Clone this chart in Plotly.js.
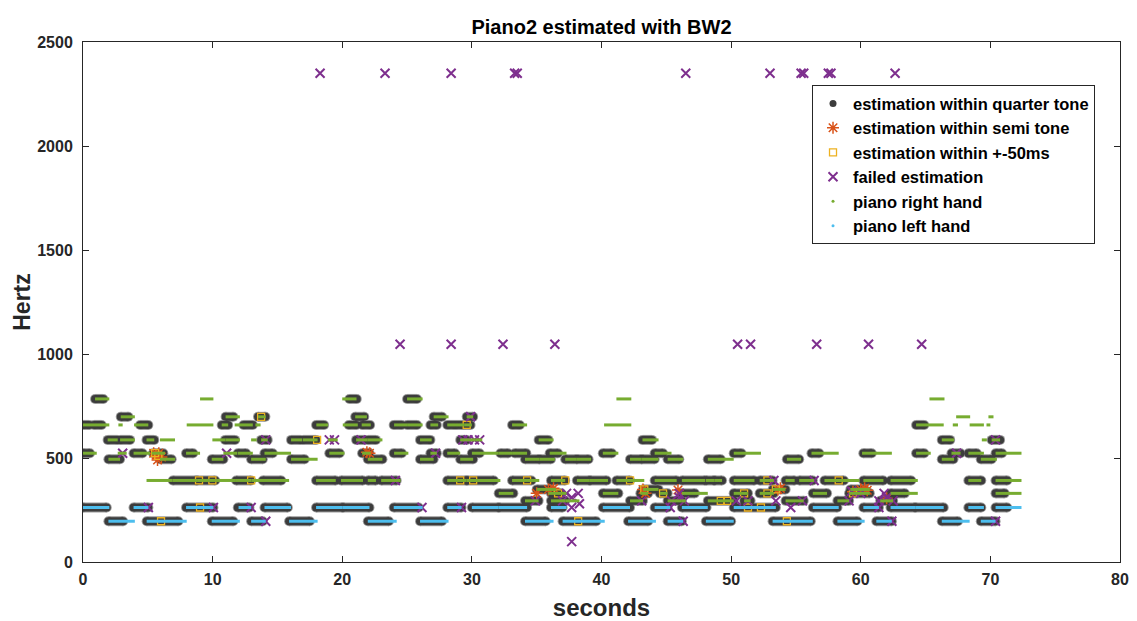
<!DOCTYPE html>
<html>
<head>
<meta charset="utf-8">
<script src="https://cdn.plot.ly/plotly-3.0.1.min.js"></script>
<style>html,body{margin:0;padding:0;background:#fff;}#chart{width:1137px;height:621px;}</style>
</head>
<body>
<div id="chart"></div>
<script>
// ---- data: [start s, end s, Hz] ----
const rhNotes = [
  [0.93,2.03,784],[9.03,10.06,784],[20.0,21.1,784],[25.0,26.2,784],[41.15,42.3,784],[65.3,66.46,784],
  [2.91,4.0,698],[11.0,12.1,698],[13.5,14.1,698],[21.0,21.9,698],[27.05,28.2,698],[29.6,30.1,698],[67.36,68.44,698],[69.85,70.24,698],
  [0,0.85,659],[0.85,2.03,659],[2.73,3.06,659],[3.94,5.04,659],[8.0,10.06,659],[10.7,11.2,659],[11.7,13.1,659],[13.3,13.7,659],
  [18.0,18.9,659],[20.04,21.2,659],[21.5,22.2,659],[24.0,25.0,659],[25.0,26.2,659],[26.8,27.4,659],[28.1,28.7,659],[28.7,29.4,659],
  [29.4,30.0,659],[33.1,34.26,659],[40.2,42.3,659],[64.27,66.4,659],[67.1,67.5,659],[68.4,69.5,659],[69.7,70.0,659],
  [1.9,2.68,587],[2.86,4.0,587],[4.9,5.5,587],[5.94,7.1,587],[9.98,11.0,587],[11.0,12.1,587],[12.97,13.4,587],[13.74,14.25,587],
  [16.05,16.9,587],[16.95,18.1,587],[18.9,19.65,587],[21.07,21.97,587],[21.97,23.1,587],[26.0,26.9,587],[29.1,29.7,587],
  [29.7,30.3,587],[30.3,30.8,587],[35.15,36.3,587],[43.16,44.4,587],[66.25,67.2,587],[69.34,69.73,587],[70.1,70.75,587],
  [0,1.06,523],[2.68,3.37,523],[3.9,5.17,523],[5.3,6.33,523],[7.95,9.03,523],[10.83,11.9,523],[11.94,13.1,523],[14.0,16.05,523],
  [19.0,20.17,523],[21.53,22.2,523],[24.0,25.1,523],[26.8,27.3,523],[28.1,29.1,523],[30.0,32.07,523],[32.07,33.1,523],[33.1,34.26,523],
  [36.0,37.3,523],[40.1,41.3,523],[44.1,45.4,523],[50.2,52.3,523],[56.2,58.3,523],[60.1,62.4,523],[64.27,65.4,523],[67.0,67.7,523],
  [68.3,69.5,523],[70.4,72.4,523],
  [1.96,2.86,494],[5.94,7.1,494],[9.93,10.83,494],[12.97,14.1,494],[16.05,18.1,494],[21.97,23.1,494],[26.0,27.05,494],[29.1,30.1,494],
  [34.1,35.2,494],[35.2,36.4,494],[37.2,38.1,494],[38.1,39.2,494],[42.2,43.1,494],[43.1,44.4,494],[45.1,46.3,494],[48.2,50.2,494],
  [54.3,55.4,494],[66.25,67.2,494],[69.26,70.5,494],
  [4.9,6.9,392],[6.9,8.8,392],[8.8,10.2,392],[10.2,11.8,392],[11.8,13.0,392],[13.0,13.9,392],[13.87,15.9,392],[17.98,19.5,392],
  [19.9,21.6,392],[21.97,22.6,392],[23.0,24.5,392],[28.1,29.6,392],[29.6,32.2,392],[33.1,35.2,392],[36.1,37.2,392],[38.1,39.1,392],
  [39.1,40.5,392],[41.15,43.3,392],[44.1,45.8,392],[46.2,48.0,392],[48.05,48.7,392],[48.7,49.3,392],[50.2,51.8,392],[52.2,53.3,392],
  [54.2,54.9,392],[55.25,56.4,392],[57.2,59.9,392],[60.2,61.75,392],[62.3,64.4,392],[68.3,69.3,392],[70.4,72.4,392],
  [35.0,36.5,349],[43.2,44.4,349],[53.2,54.2,349],[59.2,60.7,349],
  [32.07,33.2,330],[35.9,37.3,330],[40.1,41.3,330],[43.0,43.6,330],[44.5,45.1,330],[46.2,48.2,330],[50.2,51.3,330],[52.2,53.3,330],
  [56.3,57.4,330],[59.1,60.7,330],[62.3,64.4,330],[70.4,72.4,330],
  [34.1,35.15,294],[36.1,37.2,294],[37.2,38.3,294],[42.2,43.2,294],[45.1,46.2,294],[46.2,46.5,294],[48.2,50.2,294],[51.0,51.5,294],
  [54.2,55.6,294],[58.2,59.1,294],[61.5,62.5,294]
];
const lhNotes = [
  [0,2.03,262],[3.9,5.04,262],[7.95,10.06,262],[12.0,12.97,262],[14.0,16.05,262],[17.98,20.04,262],[20.04,22.1,262],[23.97,26.2,262],
  [28.1,29.2,262],[30.0,32.07,262],[32.07,34.26,262],[36.1,37.3,262],[40.1,42.2,262],[44.1,45.3,262],[46.2,48.2,262],[50.2,53.45,262],
  [56.3,58.3,262],[60.2,61.4,262],[62.3,64.2,262],[64.2,66.4,262],[68.3,69.5,262],[70.4,72.4,262],
  [1.96,4.0,196],[4.91,8.0,196],[9.93,12.1,196],[12.97,14.1,196],[15.9,18.1,196],[21.97,24.2,196],[26.0,28.2,196],[34.1,36.3,196],
  [37.0,40.25,196],[42.05,44.2,196],[45.1,46.3,196],[48.05,50.2,196],[53.2,56.3,196],[58.2,60.3,196],[61.2,62.4,196],[66.25,68.4,196],
  [69.26,70.4,196]
];
const estSegs = [
  [0.93,1.57,784],[20.55,21.12,784],[25.0,25.77,784],
  [2.91,3.5,698],[11.0,11.6,698],[13.5,14.07,698],[21.0,21.7,698],[27.05,27.7,698],[29.6,30.1,698],
  [0,0.49,659],[0.85,1.44,659],[4.4,5.04,659],[10.7,11.2,659],[12.38,13.1,659],[17.98,18.6,659],[20.5,21.1,659],[21.53,22.15,659],
  [23.97,24.6,659],[25.0,25.77,659],[26.8,27.3,659],[28.1,28.7,659],[28.7,29.35,659],[29.37,29.9,659],[33.1,33.7,659],[64.27,64.9,659],
  [1.9,2.68,587],[2.86,3.63,587],[4.9,5.5,587],[10.96,11.73,587],[13.74,14.25,587],[16.05,16.8,587],[16.95,17.98,587],[21.07,21.7,587],
  [21.97,22.6,587],[26.0,26.8,587],[29.1,29.6,587],[35.15,35.9,587],[43.16,43.9,587],[66.25,66.9,587],[70.1,70.75,587],
  [0,0.54,523],[3.9,4.6,523],[5.4,6.2,523],[7.95,8.5,523],[11.94,12.58,523],[14.0,14.64,523],[19.0,19.8,523],[21.53,22.1,523],
  [23.97,24.6,523],[26.8,27.3,523],[28.1,28.7,523],[30.0,30.6,523],[32.2,32.8,523],[33.3,34.2,523],[36.0,36.65,523],[40.1,40.8,523],
  [44.1,44.75,523],[50.2,50.8,523],[56.2,56.8,523],[60.2,60.85,523],[64.27,64.9,523],[67.0,67.7,523],[68.3,68.95,523],[70.4,70.9,523],
  [1.96,2.86,494],[5.94,6.84,494],[9.93,10.83,494],[12.97,13.87,494],[16.05,17.1,494],[21.97,23.1,494],[26.0,27.05,494],[29.1,30.1,494],
  [34.1,35.2,494],[35.2,36.1,494],[37.2,38.1,494],[38.1,39.0,494],[42.2,43.1,494],[43.1,44.1,494],[45.1,46.0,494],[48.2,49.2,494],
  [54.3,55.25,494],[66.25,67.15,494],[69.26,70.1,494],
  [6.92,8.77,392],[8.77,10.2,392],[11.81,12.97,392],[13.87,15.3,392],[17.98,19.5,392],[19.9,21.6,392],[21.97,22.6,392],[23.0,24.2,392],
  [28.1,29.6,392],[29.6,31.7,392],[33.1,34.6,392],[36.1,37.2,392],[38.1,39.1,392],[39.1,40.4,392],[41.15,42.2,392],[44.1,45.8,392],
  [46.2,48.0,392],[48.05,48.7,392],[48.7,49.3,392],[50.2,51.8,392],[52.2,53.2,392],[54.2,54.9,392],[55.25,56.3,392],[57.2,58.7,392],
  [60.2,61.75,392],[62.3,63.9,392],[68.3,69.3,392],[70.4,71.3,392],
  [35.0,36.05,349],[43.2,44.4,349],[53.2,54.2,349],[59.2,60.3,349],
  [32.07,33.2,330],[36.1,36.9,330],[40.1,41.3,330],[43.0,43.6,330],[44.5,45.1,330],[46.2,47.2,330],[50.2,51.3,330],[52.2,53.3,330],
  [56.3,57.4,330],[59.1,60.7,330],[62.3,63.4,330],[70.4,71.1,330],
  [34.1,35.15,294],[36.1,37.2,294],[42.2,43.2,294],[45.1,46.2,294],[48.2,50.2,294],[51.0,51.5,294],[54.2,55.6,294],[58.2,59.1,294],
  [61.5,62.5,294],
  [0,1.83,262],[3.9,5.04,262],[7.95,10.06,262],[11.94,12.84,262],[14.0,15.8,262],[17.98,20.04,262],[20.04,22.1,262],[23.97,25.9,262],
  [28.1,29.2,262],[30.0,32.07,262],[32.07,34.26,262],[36.1,37.0,262],[40.1,42.2,262],[44.1,45.1,262],[46.2,48.1,262],[50.2,53.45,262],
  [56.3,58.2,262],[60.2,61.4,262],[62.3,64.2,262],[64.2,66.4,262],[68.3,69.3,262],[70.4,71.3,262],
  [1.96,3.1,196],[4.91,7.36,196],[9.93,11.6,196],[12.97,13.87,196],[15.9,17.5,196],[21.97,23.6,196],[26.0,27.7,196],[34.1,35.7,196],
  [37.0,39.6,196],[42.05,43.6,196],[45.1,46.2,196],[48.05,50.0,196],[53.2,56.15,196],[58.2,59.75,196],[61.2,62.4,196],[66.25,67.5,196],
  [69.26,70.4,196]
];
const semiT  = [5.45,5.65,5.85,6.05,5.75,21.9,22.1,35.0,35.9,36.3,43.2,43.4,45.9,53.6,53.8,59.4,60.0,60.3,60.5,62.0];
const semiHz = [523,515,523,505,490,528,523,330,349,354,349,330,346,349,354,338,349,354,345,306];
const winT   = [8.95,9.98,9.03,6.02,5.56,5.81,13.74,18.06,12.97,29.6,29.1,30.1,34.26,37.2,42.2,38.2,43.3,44.75,36.65,52.8,58.3,49.2,49.7,51.3,52.3,51.0,52.8,54.3,59.4,53.45];
const winHz  = [392,392,262,196,523,510,698,587,392,659,392,392,392,392,392,196,349,330,330,392,392,294,294,262,262,330,330,196,330,349];
const failT  = [18.29,23.3,28.4,33.3,33.5,46.5,53.0,55.4,55.6,57.5,57.7,62.65,
                24.46,28.4,32.4,36.4,50.5,51.5,56.6,60.6,64.7,
                3.06,5.04,10.06,11.08,14.1,19.0,19.4,21.45,12.97,14.1,24.1,29.9,29.3,29.7,30.2,30.6,27.2,26.15,29.2,34.9,
                37.0,37.7,38.3,37.7,37.3,38.2,37.7,43.1,45.3,45.4,46.0,46.4,46.0,46.3,
                53.3,56.4,50.4,51.3,53.45,54.6,55.5,59.1,59.3,60.0,
                61.4,61.4,62.0,62.5,62.4,67.4,70.4,70.4,61.8];
const failHz = [2350,2350,2350,2350,2350,2350,2350,2350,2350,2350,2350,2350,
                1047,1047,1047,1047,1047,1047,1047,1047,1047,
                523,262,262,523,587,587,587,587,262,196,392,698,587,587,587,587,523,262,262,294,
                294,310,280,98,330,330,262,294,262,294,310,294,330,196,
                392,392,294,294,294,262,294,294,340,330,
                262,294,310,294,196,523,587,196,330];

function segs(list) {
  const x = [], y = [];
  list.forEach(s => { x.push(s[0], s[1], null); y.push(s[2], s[2], null); });
  return {x, y};
}
const est = segs(estSegs), rh = segs(rhNotes), lh = segs(lhNotes);

const DARK = '#3c3c3c', HALO = '#9a9a9a', ORANGE = '#D95319', YEL = '#EDB120', PURP = '#7E2F8E', GREEN = '#77AC30', BLUE = '#4DBEEE';
const FONT = 'Liberation Sans, Arial, sans-serif';

const traces = [
  {x: est.x, y: est.y, mode: 'lines+markers', line: {color: HALO, width: 10}, marker: {color: HALO, size: 10}, showlegend: false, hoverinfo: 'skip'},
  {x: est.x, y: est.y, mode: 'lines+markers', line: {color: DARK, width: 8}, marker: {color: DARK, size: 8}, showlegend: false, hoverinfo: 'skip'},
  {x: semiT, y: semiHz, mode: 'markers', marker: {symbol: 'asterisk-open', size: 10, color: ORANGE, line: {color: ORANGE, width: 1.5}}, showlegend: false},
  {x: winT, y: winHz, mode: 'markers', marker: {symbol: 'square-open', size: 7, color: YEL, line: {color: YEL, width: 1.3}}, showlegend: false},
  {x: failT, y: failHz, mode: 'markers', marker: {symbol: 'x-thin-open', size: 9, color: PURP, line: {color: PURP, width: 2}}, showlegend: false},
  {x: rh.x, y: rh.y, mode: 'lines', line: {color: GREEN, width: 3}, showlegend: false},
  {x: lh.x, y: lh.y, mode: 'lines', line: {color: BLUE, width: 3}, showlegend: false},
  // legend entries
  {x: [null], y: [null], mode: 'markers', name: 'estimation within quarter tone', marker: {color: DARK, size: 7}},
  {x: [null], y: [null], mode: 'markers', name: 'estimation within semi tone', marker: {symbol: 'asterisk-open', size: 10, color: ORANGE, line: {color: ORANGE, width: 1.5}}},
  {x: [null], y: [null], mode: 'markers', name: 'estimation within +-50ms', marker: {symbol: 'square-open', size: 7, color: YEL, line: {color: YEL, width: 1.3}}},
  {x: [null], y: [null], mode: 'markers', name: 'failed estimation', marker: {symbol: 'x-thin-open', size: 9, color: PURP, line: {color: PURP, width: 2}}},
  {x: [null], y: [null], mode: 'markers', name: 'piano right hand', marker: {color: GREEN, size: 3}},
  {x: [null], y: [null], mode: 'markers', name: 'piano left hand', marker: {color: BLUE, size: 3}}
];

const axisCommon = {
  showgrid: false, zeroline: false, showline: true, linecolor: '#262626', linewidth: 1,
  mirror: 'ticks', ticks: 'inside', ticklen: 6, tickcolor: '#262626',
  tickfont: {family: FONT, size: 16, color: '#262626', weight: 'bold'}
};
const layout = {
  width: 1137, height: 621,
  margin: {l: 83, r: 17, t: 42, b: 59},
  paper_bgcolor: '#fff', plot_bgcolor: '#fff',
  title: {text: 'Piano2 estimated with BW2', font: {family: FONT, size: 20, color: '#000', weight: 'bold'},
          x: 0.5, xref: 'paper', y: 1 - 27/621, yref: 'container', yanchor: 'middle'},
  xaxis: Object.assign({}, axisCommon, {range: [0, 80], tickvals: [0,10,20,30,40,50,60,70,80], ticklabelstandoff: 3,
          title: {text: 'seconds', font: {family: FONT, size: 24, color: '#262626', weight: 'bold'}, standoff: 12}}),
  yaxis: Object.assign({}, axisCommon, {range: [0, 2500], tickvals: [0,500,1000,1500,2000,2500], ticklabelstandoff: 6,
          title: {text: 'Hertz', font: {family: FONT, size: 23, color: '#262626', weight: 'bold'}, standoff: 0}}),
  legend: {x: 0.703, y: 0.917, xanchor: 'left', yanchor: 'top', bgcolor: '#fff', bordercolor: '#262626', borderwidth: 1,
           font: {family: FONT, size: 16.5, color: '#000', weight: 'bold'}, tracegroupgap: 0,
           entrywidth: 262, entrywidthmode: 'pixels'},
  showlegend: true
};
Plotly.newPlot('chart', traces, layout, {displayModeBar: false, staticPlot: true});
</script>
</body>
</html>
